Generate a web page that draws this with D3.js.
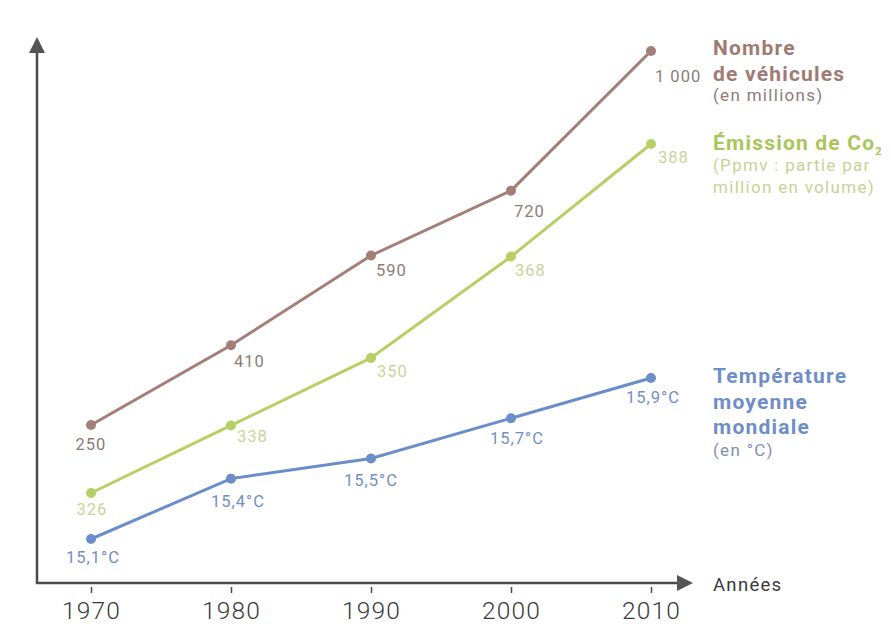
<!DOCTYPE html>
<html><head><meta charset="utf-8">
<script src="https://cdn.jsdelivr.net/npm/d3@7"></script>
<style>
html,body{margin:0;padding:0;background:#fff;}
svg{display:block;font-family:Roboto,"Open Sans",sans-serif;}
</style></head>
<body>
<svg id="c" width="891" height="627"></svg>
<script>
const years = [1970, 1980, 1990, 2000, 2010];
const vehicules = [250, 410, 590, 720, 1000];
const vehiculesLabels = ["250", "410", "590", "720", "1 000"];
const co2 = [326, 338, 350, 368, 388];
const co2Labels = ["326", "338", "350", "368", "388"];
const temperature = [15.1, 15.4, 15.5, 15.7, 15.9];
const temperatureLabels = ["15,1°C", "15,4°C", "15,5°C", "15,7°C", "15,9°C"];
const tickLabels = ["1970", "1980", "1990", "2000", "2010"];

const svg = d3.select("#c");
const axisColor = "#4a4a4a";
const x0 = 37, yBase = 583;

const x = d3.scaleLinear().domain([1970, 2010]).range([91, 651]);
const yVeh = d3.scaleLinear().domain([250, 1000]).range([425, 51]);
const yCo2 = d3.scaleLinear().domain([326, 388]).range([493, 144]);
const yTemp = d3.scaleLinear().domain([15.1, 15.9]).range([539, 378]);

// axes
svg.append("line").attr("x1", x0).attr("x2", x0).attr("y1", yBase + 1).attr("y2", 50)
  .attr("stroke", axisColor).attr("stroke-width", 2.5);
svg.append("path").attr("d", `M${x0-8},53 L${x0},37 L${x0+8},53 Z`).attr("fill", "#555");
svg.append("line").attr("x1", x0 - 1).attr("x2", 680).attr("y1", yBase).attr("y2", yBase)
  .attr("stroke", axisColor).attr("stroke-width", 2.5);
svg.append("path").attr("d", `M677,${yBase-8} L693,${yBase} L677,${yBase+8} Z`).attr("fill", "#555");

const xAxis = d3.axisBottom(x).tickValues(years).tickSize(9).tickPadding(11)
  .tickFormat((d, i) => tickLabels[i]);
const gx = svg.append("g").attr("transform", `translate(0,${yBase + 1})`).call(xAxis);
gx.select(".domain").remove();
gx.selectAll(".tick line").attr("stroke", axisColor).attr("stroke-width", 1.5)
  .attr("y1", 3);
gx.selectAll(".tick text").attr("fill", "#3a3a3a").attr("font-size", 24.5)
  .attr("font-family", "Roboto, sans-serif").attr("font-weight", 300)
  .attr("letter-spacing", 1.2).attr("dy", "0.62em");

svg.append("text").attr("x", 713).attr("y", 591).text("Années")
  .attr("font-size", 18.5).attr("letter-spacing", 1.3).attr("fill", "#3a3a3a");

// series
const series = [
  { vals: vehicules, labels: vehiculesLabels, y: yVeh, color: "#a67e78", lab: "#8d7c78",
    off: [[0, 25, "middle"], [3, 22, "start"], [5, 21, "start"], [3, 26, "start"], [4, 31, "start"]] },
  { vals: co2, labels: co2Labels, y: yCo2, color: "#b7d064", lab: "#c9d49a",
    off: [[1, 22, "middle"], [6, 17, "start"], [6, 19, "start"], [4, 19, "start"], [7, 19, "start"]] },
  { vals: temperature, labels: temperatureLabels, y: yTemp, color: "#6b8ecb", lab: "#7190c4",
    off: [[2, 24, "middle"], [7, 28, "middle"], [0, 27, "middle"], [6, 26, "middle"], [2, 25, "middle"]] }
];

series.forEach(s => {
  const line = d3.line().x((d, i) => x(years[i])).y(d => s.y(d));
  svg.append("path").attr("d", line(s.vals)).attr("fill", "none")
    .attr("stroke", s.color).attr("stroke-width", 3);
  svg.selectAll(null).data(s.vals).enter().append("circle")
    .attr("cx", (d, i) => x(years[i])).attr("cy", d => s.y(d)).attr("r", 5)
    .attr("fill", s.color);
  svg.selectAll(null).data(s.vals).enter().append("text")
    .attr("x", (d, i) => x(years[i]) + s.off[i][0])
    .attr("y", d => s.y(d))
    .attr("dy", (d, i) => s.off[i][1])
    .attr("text-anchor", (d, i) => s.off[i][2])
    .text((d, i) => s.labels[i])
    .attr("font-size", 16.5).attr("letter-spacing", 1).attr("fill", s.lab);
});

// legends
function legend(lines, color) {
  lines.forEach(l => {
    const t = svg.append("text").attr("x", 713).attr("y", l.y).attr("fill", l.c || color)
      .attr("font-size", l.fs).attr("font-weight", l.b ? 700 : 400)
      .attr("letter-spacing", l.b ? 1.2 : 1.3).text(l.t);
    if (l.sub) t.append("tspan").attr("font-size", 11).attr("dy", 5).text(l.sub);
  });
}
legend([
  { t: "Nombre", y: 55, fs: 21, b: true },
  { t: "de véhicules", y: 81, fs: 21, b: true },
  { t: "(en millions)", y: 101, fs: 17, c: "#8d7c78" }
], "#a07a73");
legend([
  { t: "Émission de Co", sub: "2", y: 150, fs: 21, b: true },
  { t: "(Ppmv : partie par", y: 171, fs: 17, c: "#c5d494" },
  { t: "million en volume)", y: 193, fs: 17, c: "#c5d494" }
], "#a9c65a");
legend([
  { t: "Température", y: 383, fs: 21, b: true },
  { t: "moyenne", y: 409, fs: 21, b: true },
  { t: "mondiale", y: 434, fs: 21, b: true },
  { t: "(en °C)", y: 456, fs: 17, c: "#7f8fb0" }
], "#6f8ec6");
</script>
</body></html>
